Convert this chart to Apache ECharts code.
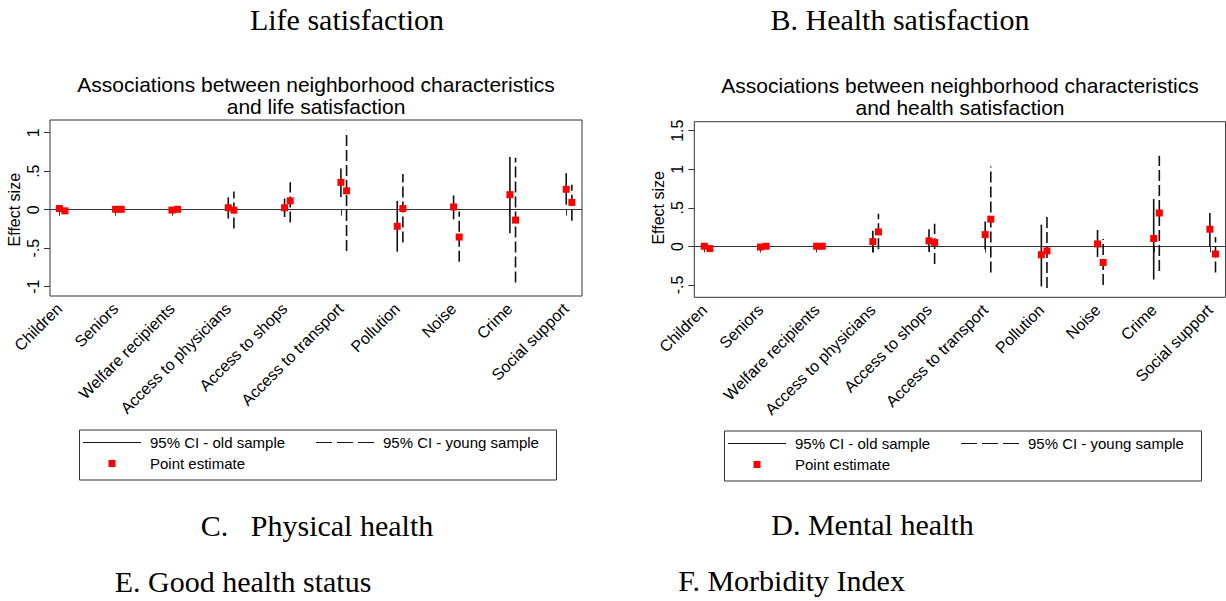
<!DOCTYPE html>
<html>
<head>
<meta charset="utf-8">
<script src="https://cdn.jsdelivr.net/npm/echarts@6/dist/echarts.min.js"></script>
<style>
  html, body { margin: 0; padding: 0; background: #ffffff; }
  #chart { width: 1226px; height: 601px; }
</style>
</head>
<body>
<div id="chart"></div>
<script>
// ---------- DATA ----------
const categories = ['Children', 'Seniors', 'Welfare recipients', 'Access to physicians', 'Access to shops',
  'Access to transport', 'Pollution', 'Noise', 'Crime', 'Social support'];

// Life satisfaction
const lifeOldEst   = [0.01, 0.00, -0.01, 0.02, 0.02, 0.35, -0.22, 0.03, 0.19, 0.26];
const lifeOldLo    = [-0.01, -0.01, -0.02, -0.12, -0.10, 0.16, -0.55, -0.13, -0.31, 0.06];
const lifeOldHi    = [0.03, 0.01, 0.00, 0.155, 0.14, 0.53, 0.11, 0.18, 0.68, 0.47];
const lifeYoungEst = [-0.02, 0.00, 0.00, -0.01, 0.11, 0.24, 0.01, -0.36, -0.14, 0.09];
const lifeYoungLo  = [-0.04, -0.01, -0.01, -0.25, -0.17, -0.54, -0.43, -0.68, -0.95, -0.15];
const lifeYoungHi  = [0.00, 0.01, 0.01, 0.23, 0.35, 1.02, 0.46, -0.03, 0.67, 0.32];

// Health satisfaction
const healthOldEst   = [0.00, -0.01, 0.00, 0.06, 0.07, 0.15, -0.11, 0.03, 0.10, 0.22];
const healthOldLo    = [-0.02, -0.02, -0.01, -0.08, -0.07, -0.04, -0.52, -0.14, -0.43, 0.00];
const healthOldHi    = [0.02, 0.00, 0.01, 0.20, 0.22, 0.32, 0.28, 0.21, 0.61, 0.43];
const healthYoungEst = [-0.03, 0.00, 0.00, 0.185, 0.05, 0.35, -0.06, -0.21, 0.43, -0.10];
const healthYoungLo  = [-0.05, -0.01, -0.01, -0.04, -0.23, -0.34, -0.54, -0.50, -0.32, -0.34];
const healthYoungHi  = [-0.01, 0.01, 0.01, 0.42, 0.29, 1.03, 0.43, 0.095, 1.17, 0.12];

// Axis ticks
const lifeTicks = [-1, -0.5, 0, 0.5, 1];
const healthTicks = [-0.5, 0, 0.5, 1, 1.5];

// Texts
const chartTitleLines = [
  ['Associations between neighborhood characteristics', 'and life satisfaction'],
  ['Associations between neighborhood characteristics', 'and health satisfaction']];
const panelHeadings = ['Life satisfaction', 'B. Health satisfaction', 'C.   Physical health',
  'D. Mental health', 'E. Good health status', 'F. Morbidity Index'];
const legendNames = ['95% CI - old sample', '95% CI - young sample', 'Point estimate'];
const yName = 'Effect size';

// ---------- CHART ----------
const SANS = 'Liberation Sans, Arial, sans-serif';
const SERIF = 'Liberation Serif, Times New Roman, serif';
const YOUNG_OFFSET = 0.1;

function stataNum(v) {
  return String(v).replace(/^(-?)0\./, '$1.');
}

function ciRender(dashed) {
  return function (params, api) {
    const x = api.value(0);
    const p1 = api.coord([x, api.value(1)]);
    const p2 = api.coord([x, api.value(2)]);
    return {
      type: 'line',
      shape: { x1: p1[0], y1: p1[1], x2: p2[0], y2: p2[1] },
      style: { stroke: '#111', lineWidth: 1.6, lineDash: dashed ? [11, 4] : null }
    };
  };
}

function ciData(lo, hi, off) {
  return categories.map((c, i) => [i + off, lo[i], hi[i]]);
}
function pointData(oldEst, youngEst) {
  const d = [];
  categories.forEach((c, i) => { d.push([i, oldEst[i]]); d.push([i + YOUNG_OFFSET, youngEst[i]]); });
  return d;
}

// panel layout (pixel geometry)
const panels = [
  { frame: { left: 50, top: 120, right: 582, bottom: 296 }, xr: [-0.165, 9.28], yr: [-1.126, 1.16],
    ticks: lifeTicks, tickBox: { left: 59.3, right: 566, top: 132.7, bottom: 286.7 },
    data: [lifeOldLo, lifeOldHi, lifeYoungLo, lifeYoungHi, lifeOldEst, lifeYoungEst] },
  { frame: { left: 694.3, top: 121.7, right: 1225.6, bottom: 297.3 }, xr: [-0.178, 9.28], yr: [-0.66, 1.61],
    ticks: healthTicks, tickBox: { left: 704.3, right: 1210, top: 130.7, bottom: 285 },
    data: [healthOldLo, healthOldHi, healthYoungLo, healthYoungHi, healthOldEst, healthYoungEst] }
];

const grid = [], xAxis = [], yAxis = [], series = [];
panels.forEach((p, k) => {
  const f = p.frame, t = p.tickBox;
  grid.push({ left: f.left, top: f.top, width: f.right - f.left, height: f.bottom - f.top,
    show: true, borderColor: '#333', borderWidth: 1, backgroundColor: 'transparent' });
  grid.push({ left: t.left, top: t.top, width: t.right - t.left, height: t.bottom - t.top, show: false });
  xAxis.push({ gridIndex: 2 * k, type: 'value', min: p.xr[0], max: p.xr[1], show: false });
  yAxis.push({ gridIndex: 2 * k, type: 'value', min: p.yr[0], max: p.yr[1], show: false });
  xAxis.push({ gridIndex: 2 * k + 1, type: 'category', data: categories, boundaryGap: false,
    position: 'bottom', offset: f.bottom - t.bottom,
    axisLine: { show: false },
    axisTick: { show: true, length: 6, interval: 0, lineStyle: { color: '#333', width: 1 } },
    axisLabel: { rotate: 45, interval: 0, margin: 10, color: '#000', fontSize: 16, fontFamily: SANS },
    splitLine: { show: false } });
  yAxis.push({ gridIndex: 2 * k + 1, type: 'value', min: p.ticks[0], max: p.ticks[p.ticks.length - 1],
    interval: 0.5, position: 'left', offset: t.left - f.left,
    axisLine: { show: false },
    axisTick: { show: true, length: 6, lineStyle: { color: '#333', width: 1 } },
    axisLabel: { rotate: 90, margin: 9, color: '#000', fontSize: 16, fontFamily: SANS, formatter: stataNum },
    splitLine: { show: false },
    name: yName, nameLocation: 'middle', nameRotate: 90, nameGap: 28,
    nameTextStyle: { color: '#000', fontSize: 16, fontFamily: SANS } });

  const d = p.data;
  series.push({ name: legendNames[0], type: 'custom', xAxisIndex: 2 * k, yAxisIndex: 2 * k,
    renderItem: ciRender(false), data: ciData(d[0], d[1], 0), itemStyle: { color: '#111' },
    encode: { x: 0, y: [1, 2] }, z: 3,
    markLine: { silent: true, symbol: 'none', label: { show: false },
      lineStyle: { color: '#333', width: 1, type: 'solid' }, data: [{ yAxis: 0 }], z: 1 } });
  series.push({ name: legendNames[1], type: 'custom', xAxisIndex: 2 * k, yAxisIndex: 2 * k,
    renderItem: ciRender(true), data: ciData(d[2], d[3], YOUNG_OFFSET), itemStyle: { color: '#111' },
    encode: { x: 0, y: [1, 2] }, z: 3 });
  series.push({ name: legendNames[2], type: 'scatter', xAxisIndex: 2 * k, yAxisIndex: 2 * k,
    symbol: 'rect', symbolSize: 7, itemStyle: { color: '#ff0000', opacity: 1 },
    data: pointData(d[4], d[5]), z: 5 });
});

const solidIcon = 'path://M0,0L58,0L58,1L0,1Z';
const dashIcon = 'path://M0,0L16,0L16,1L0,1Z M21,0L37,0L37,1L21,1Z M42,0L58,0L58,1L42,1Z';
const legendBase = { orient: 'horizontal', padding: 0, itemWidth: 58, itemHeight: 7, selectedMode: false,
  textStyle: { color: '#000', fontSize: 15, fontFamily: SANS, padding: [0, 0, 0, 4] } };
const legend = [];
const graphics = [];
[0, 645].forEach((dx, k) => {
  legend.push(Object.assign({}, legendBase, { left: 83 + dx, top: 435 + k, data: [{ name: legendNames[0], icon: solidIcon }] }));
  legend.push(Object.assign({}, legendBase, { left: 316 + dx, top: 435 + k, data: [{ name: legendNames[1], icon: dashIcon }] }));
  legend.push(Object.assign({}, legendBase, { left: 108.5 + dx, top: 456 + k, itemWidth: 7, itemHeight: 7,
    textStyle: { color: '#000', fontSize: 15, fontFamily: SANS, padding: [0, 0, 0, 29.5] },
    data: [{ name: legendNames[2], icon: 'rect' }] }));
  graphics.push({ type: 'rect', left: 77 + dx, top: 427.5 + k, shape: { x: 0, y: 0, width: 477, height: 50 },
    style: { fill: 'none', stroke: '#333', lineWidth: 1 }, silent: true });
});

const headingPos = [[347, 19.5], [900, 19.5], [317, 525], [872.5, 524], [243, 581.5], [791.5, 580.5]];
const title = [];
chartTitleLines.forEach((lines, k) => {
  const cx = k === 0 ? 316 : 960;
  const y0 = k === 0 ? 84.5 : 85.5;
  lines.forEach((txt, j) => {
    title.push({ text: txt, left: cx, top: y0 + j * 21.5, padding: 0,
      textAlign: 'center', textVerticalAlign: 'middle',
      textStyle: { fontFamily: SANS, fontSize: 21, fontWeight: 'normal', color: '#000', lineHeight: 21 } });
  });
});
panelHeadings.forEach((txt, k) => {
  title.push({ text: txt, left: headingPos[k][0], top: headingPos[k][1], padding: 0,
    textAlign: 'center', textVerticalAlign: 'middle',
    textStyle: { fontFamily: SERIF, fontSize: 30, fontWeight: 'normal', color: '#000' } });
});

const chart = echarts.init(document.getElementById('chart'), null, { renderer: 'svg' });
chart.setOption({
  backgroundColor: '#ffffff',
  animation: false,
  title: title,
  legend: legend,
  grid: grid,
  xAxis: xAxis,
  yAxis: yAxis,
  series: series,
  graphic: graphics
});
</script>
</body>
</html>
